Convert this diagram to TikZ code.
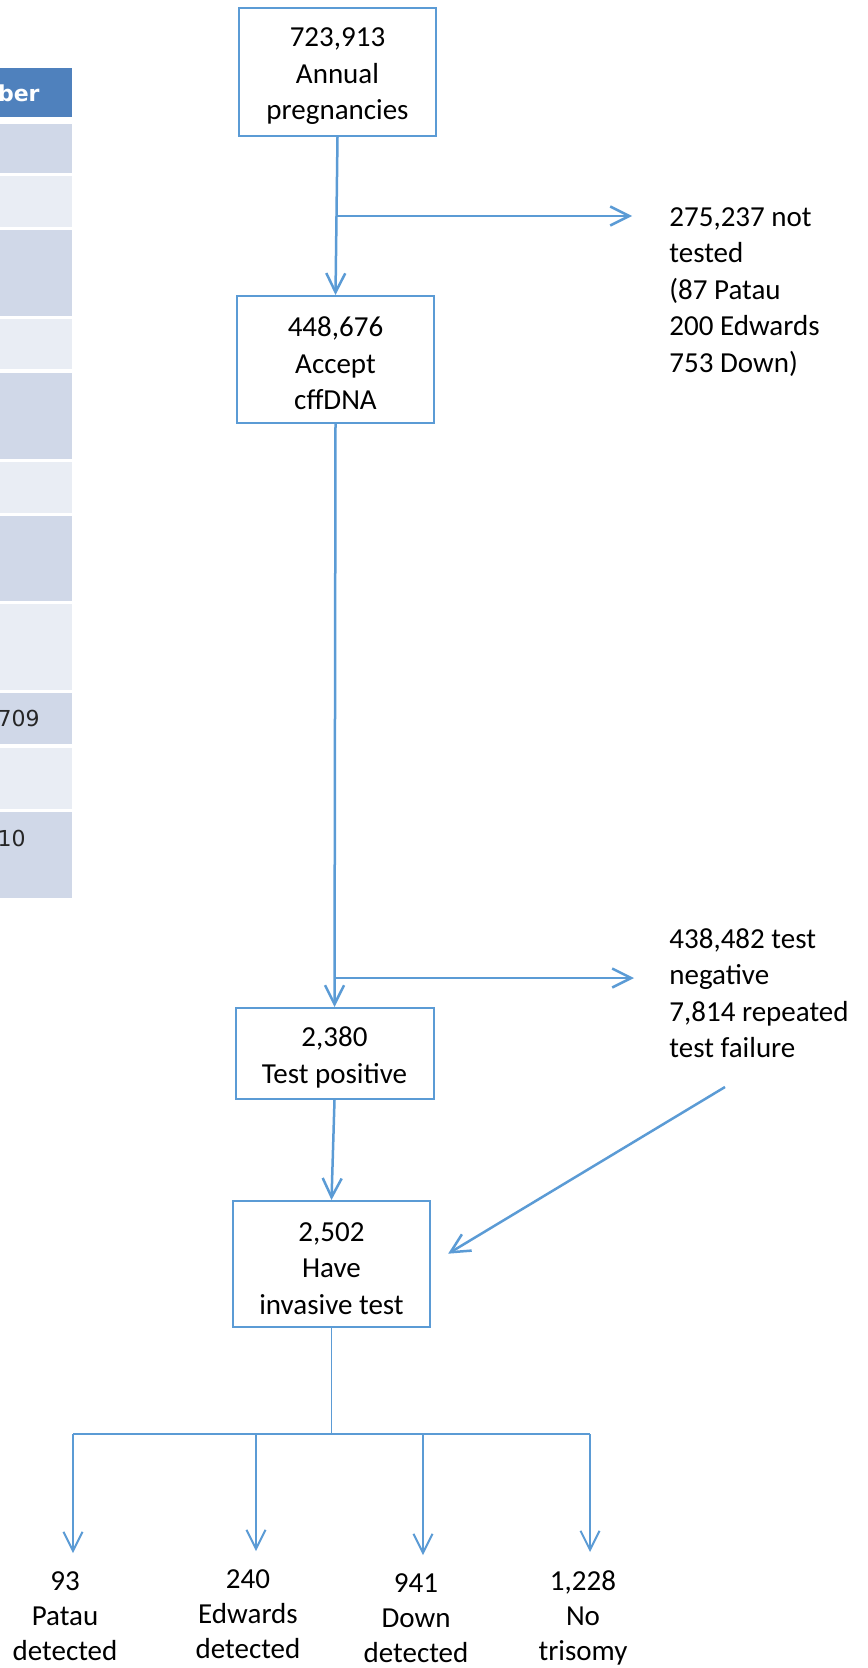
\documentclass[tikz,border=0pt]{standalone}
\usepackage{fontspec}
\setmainfont{Carlito}
\newfontfamily\tablefont{DejaVu Sans}
\usetikzlibrary{arrows.meta,positioning}
\definecolor{flowblue}{RGB}{91,155,213}
\definecolor{headblue}{RGB}{79,129,189}
\definecolor{rowdark}{RGB}{208,216,232}
\definecolor{rowlight}{RGB}{233,237,244}
\newcommand{\toppad}{\rule{0pt}{13.7pt}}

\begin{document}
\begin{tikzpicture}[x=0.5pt, y=-0.5pt, >={Straight Barb[length=9.5pt,width=9.5pt]},
  box/.style={draw=flowblue, line width=1pt, align=center, minimum width=98.5pt,
              inner sep=0pt, font=\fontsize{14.5pt}{18.25pt}\selectfont},
  flow/.style={->, draw=flowblue, line width=1.25pt},
  note/.style={align=left, inner sep=0pt, anchor=north west,
               font=\fontsize{14.5pt}{18.25pt}\selectfont},
  leaf/.style={align=center, inner sep=0pt, anchor=north,
               font=\fontsize{14.5pt}{17.5pt}\selectfont},
  cell/.style={anchor=east, inner sep=0pt, text=black!85,
               font=\tablefont\fontsize{11pt}{13pt}\selectfont}]
\useasboundingbox (0,0) rectangle (867,1668);

% clipped table at the left edge
\begin{scope}
\clip (0,0) rectangle (72,900);
\foreach \ya/\yb/\rowcol in {68/117/headblue, 124/173/rowdark, 176/227/rowlight,
    230/316/rowdark, 319/369/rowlight, 373/459/rowdark, 462/513/rowlight,
    516/601/rowdark, 604/690/rowlight, 693/744/rowdark, 748/809/rowlight,
    812/898/rowdark}
  \fill[\rowcol] (-10,\ya) rectangle (72,\yb);
\node[cell, text=white, font=\tablefont\fontsize{11pt}{13pt}\selectfont\bfseries] (numhead) at (40,93) {ber};
\node[cell] (rowval) at (40,718) {709};
\node[cell] (rowlast) at (26,838) {10};
\end{scope}

% main flow
\node[box, minimum height=64pt] (annual) at (337.5,72) {\toppad723,913\\Annual\\pregnancies};
\node[box, minimum height=63.5pt] (accept) at (335.5,359.5) {\toppad448,676\\Accept\\cffDNA};
\node[box, minimum width=99pt, minimum height=45.5pt] (positive) at (334.5,1053.5) {\toppad2,380\\Test positive};
\node[box, minimum height=63pt] (invasive) at (331.5,1264) {\toppad2,502\\Have\\invasive test};

\node[note] (nottested) at (669,207) {275,237 not\\tested\\(87 Patau\\200 Edwards\\753 Down)};
\node[note] (negative) at (669,928) {438,482 test\\negative\\7,814 repeated\\test failure};

\draw[flow] (annual.south) -- (accept.north);
\coordinate (split1) at (337,216);
\coordinate (out1) at (632,216);
\draw[flow] (split1) -- (out1);

\draw[flow] (accept.south) -- (positive.north);
\coordinate (split2) at (335,978);
\coordinate (out2) at (634,978);
\draw[flow] (split2) -- (out2);

\draw[flow] (positive.south) -- (invasive.north);
\coordinate (retest) at (725,1087);
\draw[flow, shorten >=10pt] (retest) -- (invasive.east);

% outcomes
\coordinate (fork) at (331.5,1434);
\draw[draw=flowblue, line width=0.5pt] (invasive.south) -- (fork);
\node[leaf] (patau) at (65,1571) {93\\Patau\\detected};
\node[leaf] (edwards) at (248,1569) {240\\Edwards\\detected};
\node[leaf] (down) at (416,1573) {941\\Down\\detected};
\node[leaf] (notrisomy) at (583,1570) {1,228\\No\\trisomy};
\foreach \name/\xx in {patau/73, edwards/256, down/423, notrisomy/590}
  \coordinate (\name-top) at (\xx,1434);
\draw[draw=flowblue, line width=1pt] (patau-top) -- (notrisomy-top);
\foreach \name in {patau, edwards, down, notrisomy}
  \draw[flow, line width=1pt, shorten >=9pt] (\name-top) -- (\name-top |- \name.north);
\end{tikzpicture}
\end{document}
